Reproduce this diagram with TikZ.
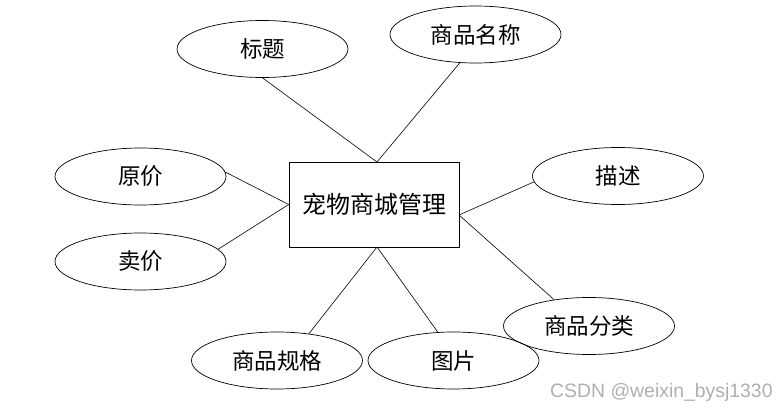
\documentclass[tikz,border=0pt]{standalone}
\usepackage{fontspec}
\setmainfont{Liberation Sans}
\newfontfamily\cjk{Noto Sans CJK SC}
\usetikzlibrary{shapes.geometric}
\definecolor{wmgray}{RGB}{175,175,175}
\tikzset{
  attr/.style={draw, ellipse, line width=0.7pt, minimum width=171pt, minimum height=57pt, inner sep=0pt,
    font=\cjk\fontsize{22.5}{25}\selectfont},
  entity/.style={draw, rectangle, line width=0.7pt, minimum width=170pt, minimum height=85pt, inner sep=0pt,
    font=\cjk\fontsize{24}{27}\selectfont},
  link/.style={line width=0.6pt},
}
\begin{document}
\begin{tikzpicture}[x=1pt, y=-1pt]
\useasboundingbox (0,0) rectangle (782,409);
\node[entity] (box) at (374,204.5) {宠物商城管理};
\node[attr] (title) at (262.5,49) {标题};
\node[attr] (name) at (475.5,34.5) {商品名称};
\node[attr] (orig) at (140.5,176.5) {原价};
\node[attr] (sell) at (140.5,261.5) {卖价};
\node[attr] (desc) at (618,176) {描述};
\node[attr] (cat) at (589,326) {商品分类};
\node[attr] (spec) at (277,360.5) {商品规格};
\node[attr] (pic) at (453.5,360.5) {图片};
\coordinate (ptop) at (377,162);
\coordinate (pbot) at (377,247);
\coordinate (pright) at (459,215);
\draw[link] (title.south) -- (ptop);
\draw[link] (name.241) -- (ptop);
\draw[link] (orig.3) -- (box.west);
\draw[link] (sell.9) -- (box.west);
\draw[link] (desc.184) -- (pright);
\draw[link] (cat.143) -- (pright);
\draw[link] (spec.40) -- (pbot);
\draw[link] (pic.119) -- (pbot);
\node[anchor=base west, inner sep=0pt, text=wmgray, font=\fontsize{19.4}{22}\selectfont] (wm) at (550,397) {CSDN @weixin\_bysj1330};
\end{tikzpicture}
\end{document}
